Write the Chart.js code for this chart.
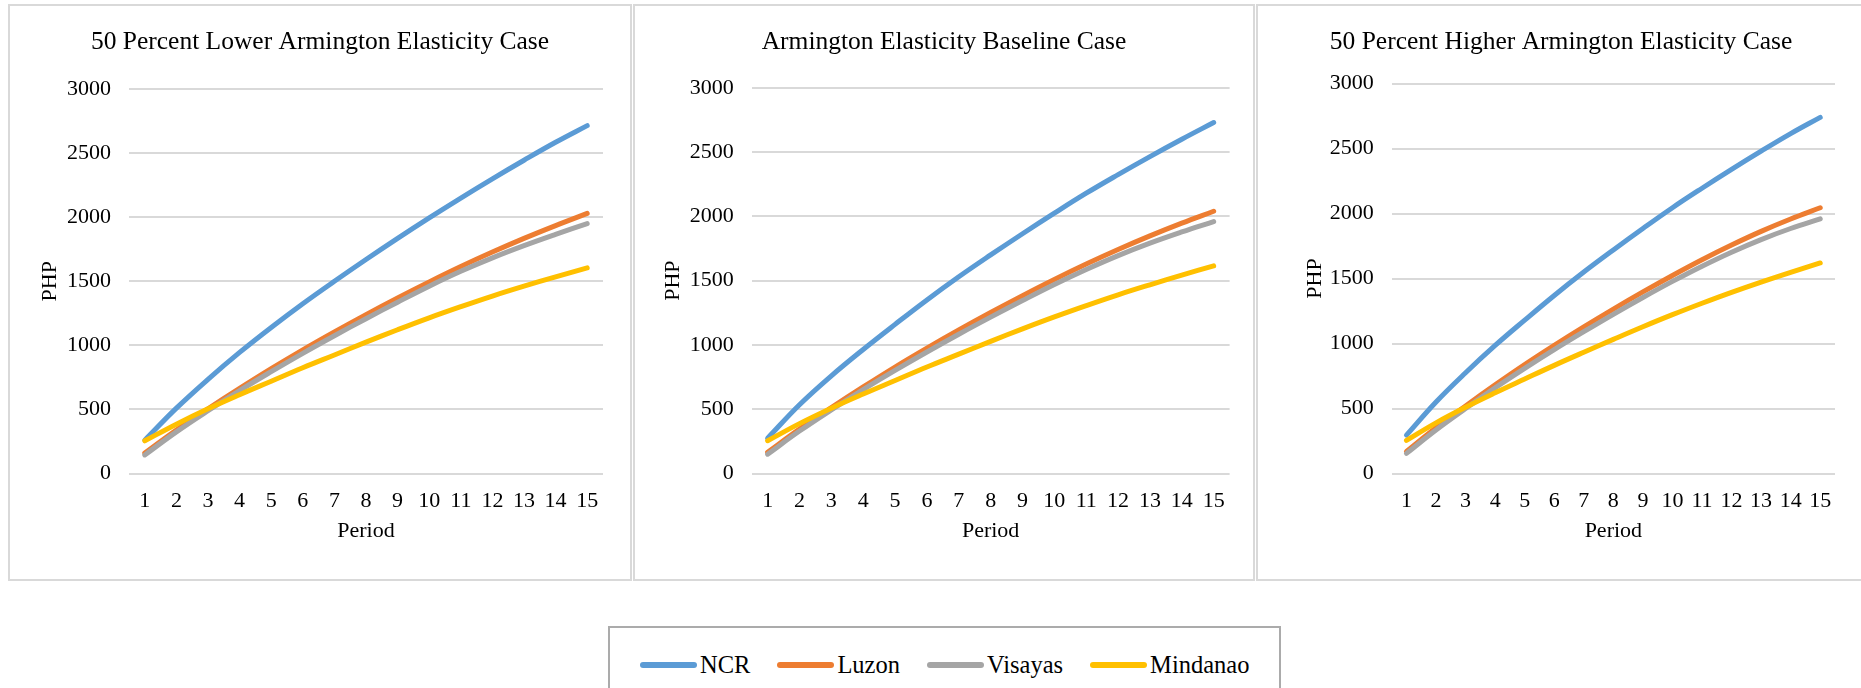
<!DOCTYPE html>
<html>
<head>
<meta charset="utf-8">
<script src="https://cdn.jsdelivr.net/npm/chart.js@4/dist/chart.umd.min.js"></script>
<style>
html,body{margin:0;padding:0;background:#fff;width:1861px;height:688px;overflow:hidden;font-family:"Liberation Serif","Times New Roman",serif;}
.panel{position:absolute;top:4px;height:577px;box-sizing:border-box;border:2px solid #d9d9d9;background:#fff;}
.panel canvas{display:block;}
#p1{left:8px;width:624px;}
#p2{left:633px;width:622px;}
#p3{left:1256px;width:610px;}
#legend{position:absolute;left:608px;top:626px;width:673px;height:80px;box-sizing:border-box;border:2px solid #ababab;background:#fff;}
#legendItems{position:absolute;left:30px;top:20px;height:34px;display:flex;align-items:center;gap:27px;}
.item{display:flex;align-items:center;}
.swatch{width:57px;height:6px;border-radius:3px;margin-right:3px;}
.ltext{font-family:"Liberation Serif","Times New Roman",serif;font-size:24.5px;color:#000;line-height:34px;}
</style>
</head>
<body>
<div class="panel" id="p1"><canvas id="c1" width="620" height="573"></canvas></div>
<div class="panel" id="p2"><canvas id="c2" width="618" height="573"></canvas></div>
<div class="panel" id="p3"><canvas id="c3" width="606" height="573"></canvas></div>
<div id="legend"><div id="legendItems"></div></div>
<script>
// ---- data ----
const periods = ['1','2','3','4','5','6','7','8','9','10','11','12','13','14','15'];
const seriesNames = ['NCR','Luzon','Visayas','Mindanao'];
const seriesColors = ['#5B9BD5','#ED7D31','#A5A5A5','#FFC000'];
const panelTitles = [
  '50 Percent Lower Armington Elasticity Case',
  'Armington Elasticity Baseline Case',
  '50 Percent Higher Armington Elasticity Case'
];
const xAxisTitle = 'Period';
const yAxisTitle = 'PHP';
const yMin = 0, yMax = 3000, yStep = 500;

// 50 Percent Lower
const lowerNCR      = [260, 510, 735, 945, 1140, 1325, 1500, 1670, 1835, 1995, 2150, 2300, 2445, 2585, 2715];
const lowerLuzon    = [160, 340, 505, 664, 818, 965, 1105, 1240, 1370, 1495, 1615, 1728, 1835, 1935, 2030];
const lowerVisayas  = [145, 325, 490, 647, 795, 938, 1075, 1208, 1337, 1462, 1578, 1683, 1778, 1866, 1950];
const lowerMindanao = [255, 385, 505, 615, 720, 825, 925, 1025, 1122, 1215, 1302, 1385, 1462, 1535, 1605];
// Baseline
const baseNCR      = [275, 535, 760, 965, 1160, 1350, 1530, 1700, 1865, 2025, 2180, 2325, 2465, 2600, 2730];
const baseLuzon    = [165, 345, 512, 673, 828, 975, 1116, 1252, 1383, 1509, 1629, 1742, 1848, 1947, 2040];
const baseVisayas  = [150, 330, 495, 653, 802, 945, 1083, 1216, 1345, 1470, 1587, 1695, 1792, 1879, 1960];
const baseMindanao = [255, 388, 508, 618, 723, 828, 928, 1028, 1125, 1218, 1306, 1390, 1468, 1543, 1615];
// 50 Percent Higher
const higherNCR      = [295, 550, 775, 985, 1180, 1370, 1550, 1720, 1885, 2045, 2195, 2340, 2480, 2615, 2740];
const higherLuzon    = [170, 352, 520, 682, 838, 986, 1128, 1265, 1397, 1524, 1645, 1758, 1863, 1958, 2045];
const higherVisayas  = [155, 335, 500, 659, 809, 953, 1091, 1225, 1354, 1478, 1595, 1703, 1800, 1885, 1960];
const higherMindanao = [255, 390, 510, 621, 727, 832, 933, 1032, 1129, 1222, 1310, 1394, 1473, 1548, 1620];

// ---- layout per panel ----
const panels = [
  {id:'c1', title:panelTitles[0], series:[lowerNCR, lowerLuzon, lowerVisayas, lowerMindanao],
   tTop:21.4, tBot:31.1, yW:119, yTitlePad:27.4, rightW:27},
  {id:'c2', title:panelTitles[1], series:[baseNCR, baseLuzon, baseVisayas, baseMindanao],
   tTop:21.4, tBot:29.8, yW:116.7, yTitlePad:25.4, rightW:23.4},
  {id:'c3', title:panelTitles[2], series:[higherNCR, higherLuzon, higherVisayas, higherMindanao],
   tTop:21.4, tBot:25.6, yW:133.7, yTitlePad:44.4, rightW:29}
];

const FONT = 'Liberation Serif';
const TXT = '#000';

panels.forEach(p => {
  new Chart(document.getElementById(p.id), {
    type: 'line',
    data: {
      labels: periods,
      datasets: seriesNames.map((n, i) => ({
        label: n,
        data: p.series[i],
        borderColor: seriesColors[i],
        backgroundColor: seriesColors[i],
        borderWidth: 5,
        pointRadius: 0,
        pointHoverRadius: 0,
        tension: 0.4,
        borderCapStyle: 'round',
        borderJoinStyle: 'round',
        fill: false,
        order: seriesNames.length - i
      }))
    },
    options: {
      responsive: false,
      animation: false,
      events: [],
      layout: {padding: {left: 0, right: 0, top: 0, bottom: 35}},
      plugins: {
        legend: {display: false},
        tooltip: {enabled: false},
        title: {
          display: true,
          text: p.title,
          color: TXT,
          font: {family: FONT, size: 25.5, weight: 'normal'},
          padding: {top: p.tTop, bottom: p.tBot}
        }
      },
      scales: {
        x: {
          type: 'category',
          offset: true,
          grid: {display: false},
          border: {display: false},
          ticks: {padding: 6.5, color: TXT, font: {family: FONT, size: 22}, maxRotation: 0, autoSkip: false},
          title: {display: true, text: xAxisTitle, color: TXT, font: {family: FONT, size: 22}, padding: 0},
          afterFit: s => { s.height = 70.5; }
        },
        y: {
          min: yMin, max: yMax,
          ticks: {stepSize: yStep, padding: 18, color: TXT, font: {family: FONT, size: 22},
                  callback: v => String(v)},
          grid: {color: '#d9d9d9', lineWidth: 2, drawTicks: false},
          border: {display: false},
          title: {display: true, text: yAxisTitle, color: TXT, font: {family: FONT, size: 22}, padding: {top: p.yTitlePad, bottom: 0}},
          afterFit: s => { s.width = p.yW; }
        },
        yRight: {
          axis: 'y',
          type: 'linear',
          position: 'right',
          display: true,
          grid: {display: false},
          ticks: {display: false},
          border: {display: false},
          afterFit: s => { s.width = p.rightW; }
        }
      }
    }
  });
});

// ---- legend ----
const li = document.getElementById('legendItems');
seriesNames.forEach((n, i) => {
  const it = document.createElement('div');
  it.className = 'item';
  const sw = document.createElement('div');
  sw.className = 'swatch';
  sw.style.background = seriesColors[i];
  const tx = document.createElement('span');
  tx.className = 'ltext';
  tx.textContent = n;
  it.appendChild(sw); it.appendChild(tx);
  li.appendChild(it);
});
</script>
</body>
</html>
